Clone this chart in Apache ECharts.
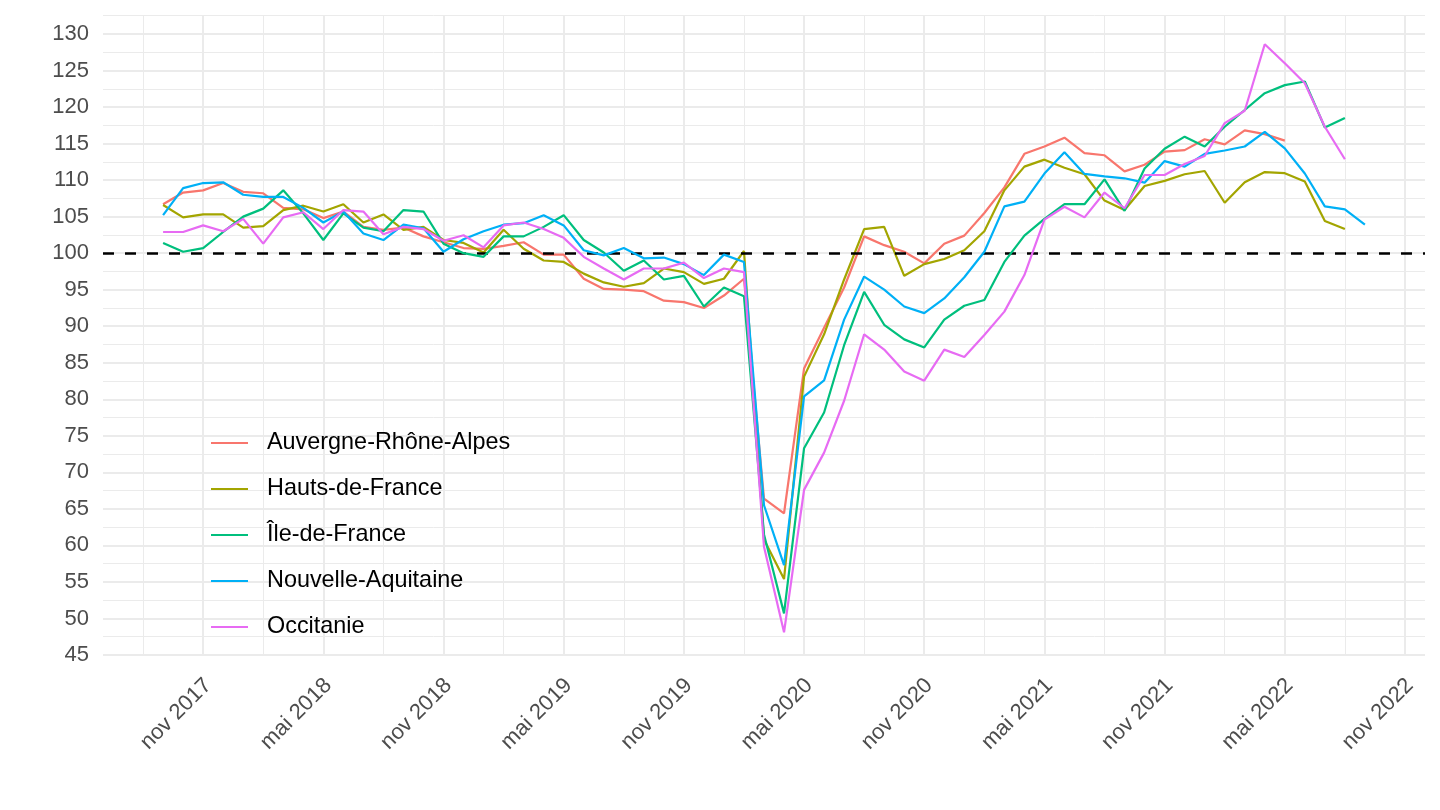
<!DOCTYPE html>
<html>
<head>
<meta charset="utf-8">
<script src="https://cdn.jsdelivr.net/npm/echarts@6/dist/echarts.min.js"></script>
<style>
html,body{margin:0;padding:0;background:#fff;}
#chart{width:1440px;height:810px;}
</style>
</head>
<body>
<div id="chart"></div>
<script>
// Month categories (juin 2017 -> déc 2022)
const months = [
  "juin 2017","juil 2017","août 2017","sept 2017","oct 2017","nov 2017","déc 2017",
  "janv 2018","févr 2018","mars 2018","avr 2018","mai 2018","juin 2018","juil 2018","août 2018","sept 2018","oct 2018","nov 2018","déc 2018",
  "janv 2019","févr 2019","mars 2019","avr 2019","mai 2019","juin 2019","juil 2019","août 2019","sept 2019","oct 2019","nov 2019","déc 2019",
  "janv 2020","févr 2020","mars 2020","avr 2020","mai 2020","juin 2020","juil 2020","août 2020","sept 2020","oct 2020","nov 2020","déc 2020",
  "janv 2021","févr 2021","mars 2021","avr 2021","mai 2021","juin 2021","juil 2021","août 2021","sept 2021","oct 2021","nov 2021","déc 2021",
  "janv 2022","févr 2022","mars 2022","avr 2022","mai 2022","juin 2022","juil 2022","août 2022","sept 2022","oct 2022","nov 2022","déc 2022"
];
const tickLabels = ["nov 2017","mai 2018","nov 2018","mai 2019","nov 2019","mai 2020","nov 2020","mai 2021","nov 2021","mai 2022","nov 2022"];
const minorTickMonths = ["août 2017","févr 2018","août 2018","févr 2019","août 2019","févr 2020","août 2020","févr 2021","août 2021","févr 2022","août 2022"];
const seriesNames = ["Auvergne-Rhône-Alpes","Hauts-de-France","Île-de-France","Nouvelle-Aquitaine","Occitanie"];
const colors = ["#F8766D","#A3A500","#00BF7D","#00B0F6","#E76BF3"];
const firstDataMonth = "sept 2017";

// Values from sept 2017 onward
const auvergne = [106.7,108.3,108.6,109.6,108.4,108.2,106.2,106.0,104.8,105.7,103.6,103.2,103.5,102.3,101.5,100.7,100.6,101.0,101.5,99.8,99.8,96.5,95.1,95.0,94.8,93.5,93.3,92.5,94.2,96.5,66.4,64.4,84.2,89.8,95.3,102.3,101.1,100.2,98.6,101.3,102.4,105.5,109.0,113.6,114.6,115.8,113.7,113.4,111.2,112.1,113.9,114.1,115.6,114.9,116.8,116.3,115.4];
const hauts = [106.6,104.9,105.3,105.3,103.5,103.7,105.9,106.5,105.7,106.7,104.2,105.3,103.2,103.6,101.8,101.4,100.1,103.2,100.6,99.0,98.8,97.2,96.0,95.4,95.9,97.9,97.4,95.8,96.5,100.3,60.8,55.4,83.1,88.9,96.4,103.3,103.6,96.9,98.5,99.2,100.4,103.0,108.6,111.85,112.8,111.7,110.8,107.2,105.9,109.2,109.9,110.8,111.25,106.9,109.7,111.1,110.95,109.8,104.4,103.3];
const ile = [101.4,100.2,100.7,102.9,105.0,106.1,108.6,105.45,101.8,105.45,103.5,103.0,105.9,105.7,101.3,100.0,99.5,102.3,102.3,103.6,105.2,101.8,100.1,97.6,99.0,96.4,96.9,92.7,95.3,94.1,61.5,50.7,73.3,78.2,87.4,94.7,90.2,88.2,87.1,90.9,92.8,93.6,98.8,102.4,104.7,106.7,106.7,110.1,105.8,111.6,114.3,115.95,114.6,117.3,119.6,121.9,123.0,123.5,117.2,118.5];
const nouvelle = [105.2,108.9,109.6,109.7,108.0,107.7,107.7,106.2,104.2,105.7,102.7,101.8,103.9,103.4,100.2,101.9,103.0,103.9,104.1,105.2,103.8,100.4,99.7,100.7,99.3,99.4,98.5,97.0,99.8,98.8,65.5,57.3,80.4,82.6,90.9,96.8,95.0,92.7,91.8,93.8,96.7,100.2,106.4,107.05,110.9,113.8,110.85,110.5,110.25,109.65,112.6,111.85,113.6,114.05,114.6,116.6,114.35,110.9,106.4,106.0,103.9];
const occitanie = [102.9,102.9,103.8,103.0,104.7,101.3,104.9,105.6,103.3,105.9,105.7,102.6,103.6,103.3,101.7,102.45,100.8,103.8,104.2,103.3,102.1,99.5,97.9,96.4,97.9,97.9,98.7,96.6,97.9,97.4,59.8,48.1,67.6,72.7,79.8,88.9,86.8,83.8,82.55,86.8,85.8,88.8,92.0,97.0,104.6,106.35,104.9,108.3,106.15,110.7,110.7,112.2,113.3,117.8,119.5,128.6,126.0,123.25,117.3,112.85];
const referenceLevel = 100;
const yTicks = {min: 45, max: 132.6, major: 5, minor: 2.5};

const allSeries = [auvergne, hauts, ile, nouvelle, occitanie];
const startIdx = months.indexOf(firstDataMonth);
function pad(arr){
  const out = months.map(() => null);
  arr.forEach((v, i) => { out[startIdx + i] = v; });
  return out;
}

const FONT = "'Liberation Sans', Arial, Helvetica, sans-serif";
const chart = echarts.init(document.getElementById('chart'));

const series = allSeries.map((arr, k) => ({
  name: seriesNames[k],
  type: 'line',
  data: pad(arr),
  showSymbol: false,
  symbol: 'none',
  lineStyle: {width: 2.2, color: colors[k]},
  itemStyle: {color: colors[k]},
  emphasis: {disabled: true},
  z: 3 + k
}));
series[series.length - 1].markLine = {
  silent: true,
  symbol: 'none',
  animation: false,
  label: {show: false},
  lineStyle: {color: '#000', type: [11, 11], width: 2.5},
  data: [{yAxis: referenceLevel}]
};

const option = {
  animation: false,
  backgroundColor: '#fff',
  color: colors,
  textStyle: {fontFamily: FONT},
  grid: {left: 103, right: 15, top: 15, bottom: 155, containLabel: false},
  xAxis: [
    {
      type: 'category',
      data: months,
      boundaryGap: false,
      axisLine: {show: false},
      axisTick: {show: false},
      axisLabel: {
        interval: (i, v) => tickLabels.indexOf(v) >= 0,
        rotate: 45,
        fontSize: 22,
        color: '#4D4D4D',
        fontFamily: FONT,
        margin: 22,
        verticalAlign: 'top',
        lineHeight: 14
      },
      splitLine: {
        show: true,
        interval: (i, v) => tickLabels.indexOf(v) >= 0,
        lineStyle: {color: '#EBEBEB', width: 2}
      }
    },
    {
      type: 'category',
      data: months,
      boundaryGap: false,
      position: 'bottom',
      axisLine: {show: false},
      axisTick: {show: false},
      axisLabel: {show: false},
      splitLine: {
        show: true,
        interval: (i, v) => minorTickMonths.indexOf(v) >= 0,
        lineStyle: {color: '#EBEBEB', width: 1}
      }
    }
  ],
  yAxis: [
    {
      type: 'value',
      min: yTicks.min,
      max: yTicks.max,
      interval: yTicks.major,
      axisLine: {show: false},
      axisTick: {show: false},
      axisLabel: {
        fontSize: 22,
        color: '#4D4D4D',
        fontFamily: FONT,
        margin: 14,
        showMaxLabel: false,
        formatter: v => (Math.abs(v / 5 - Math.round(v / 5)) < 1e-6 ? String(v) : '')
      },
      splitLine: {show: true, showMaxLine: false, lineStyle: {color: '#EBEBEB', width: 2}}
    },
    {
      type: 'value',
      min: yTicks.min,
      max: yTicks.max,
      interval: yTicks.minor,
      position: 'left',
      axisLine: {show: false},
      axisTick: {show: false},
      axisLabel: {show: false},
      splitLine: {show: true, showMaxLine: false, lineStyle: {color: '#EBEBEB', width: 1}}
    }
  ],
  legend: {
    orient: 'vertical',
    left: 211,
    top: 431,
    padding: 0,
    icon: 'rect',
    itemWidth: 37,
    itemHeight: 2.2,
    itemGap: 22,
    selectedMode: false,
    textStyle: {fontSize: 23.4, color: '#000', fontFamily: FONT, lineHeight: 24, padding: [0, 0, 0, 14]},
    data: seriesNames
  },
  series: series
};
chart.setOption(option);
</script>
</body>
</html>
